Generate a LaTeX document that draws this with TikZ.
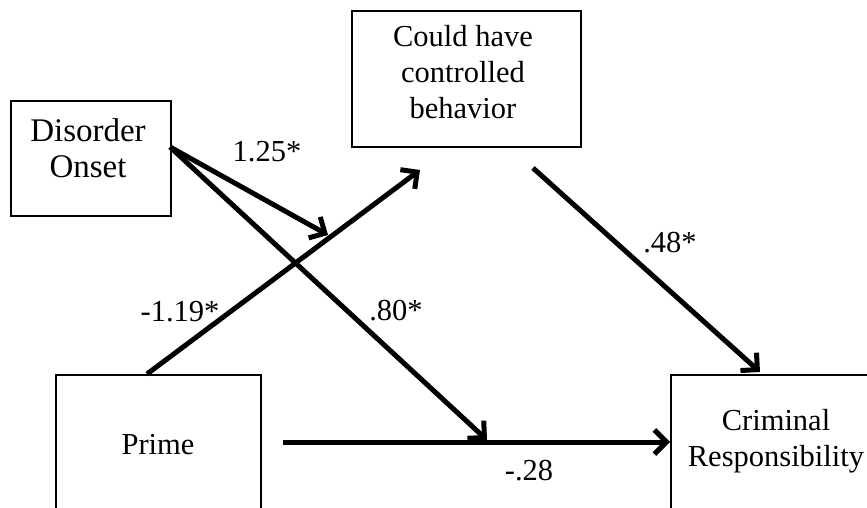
\documentclass[tikz,border=0pt]{standalone}
\usepackage{fontspec}
\setmainfont{Liberation Serif}
\usetikzlibrary{arrows.meta}
\begin{document}
\begin{tikzpicture}[x=1pt,y=-1pt,
  box/.style={draw=black,line width=1.8pt,rectangle,inner sep=0pt,anchor=north west},
  txt/.style={font=\fontsize{30.5}{36}\selectfont,align=center,inner sep=0pt},
  lbl/.style={font=\fontsize{30.5}{36}\selectfont,inner sep=0pt},
  arr/.style={line width=5pt,-{Straight Barb[length=12pt,width=24pt,line width=5pt]}}]
\useasboundingbox (0,0) rectangle (867,508);
\clip (0,0) rectangle (867,508);
% boxes
\node[box,minimum width=160pt,minimum height=115pt] (dis) at (10,100) {};
\node[box,minimum width=229pt,minimum height=136pt] (could) at (351,10) {};
\node[box,minimum width=205pt,minimum height=200pt] (prime) at (55,374) {};
\node[box,minimum width=230pt,minimum height=200pt] (crim) at (670,374) {};
% texts
\node[txt,font=\fontsize{33}{36}\selectfont] (distext) at (88,148) {Disorder\\Onset};
\node[txt] (couldtext) at (463,72) {Could have\\controlled\\behavior};
\node[txt] (primetext) at (158,445) {Prime};
\node[txt] (crimtext) at (776,441) {Criminal\\Responsibility};
% coordinates
\coordinate (dstart) at (170,147);
\coordinate (pstart) at (147,374);
\coordinate (ptip) at (420,170);
\coordinate (cstart) at (533,168);
\coordinate (ctip) at (760,372);
\coordinate (hstart) at (283,442);
\coordinate (htip) at (670,442);
\coordinate (m1) at (328,235);
\coordinate (m2) at (487,440);
% connectors
\draw[arr] (pstart) -- (ptip);
\draw[arr] (dstart) -- (m1);
\draw[arr] (dstart) -- (m2);
\draw[arr] (cstart) -- (ctip);
\draw[arr] (hstart) -- (htip);
% labels
\node[lbl] (l1) at (267,152) {1.25*};
\node[lbl] (l2) at (180,312) {-1.19*};
\node[lbl] (l3) at (396,311) {.80*};
\node[lbl] (l4) at (670,243) {.48*};
\node[lbl] (l5) at (529,471) {-.28};
\end{tikzpicture}
\end{document}
